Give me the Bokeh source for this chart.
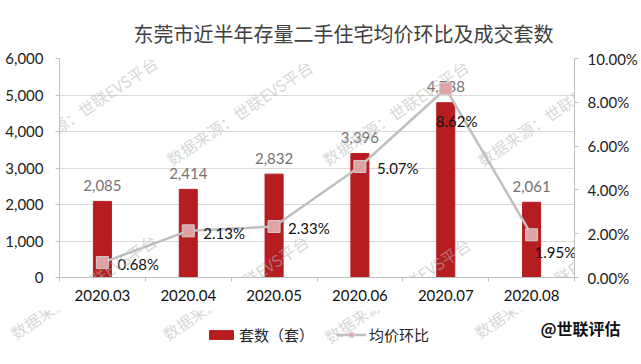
import math
from bokeh.plotting import figure
from bokeh.layouts import column
from bokeh.models import (Range1d, LinearAxis, FixedTicker, NumeralTickFormatter, Title,
                          PrintfTickFormatter, ColumnDataSource, Legend, LegendItem, Label, LabelSet)
from bokeh.core.properties import value
from bokeh.embed import file_html
from bokeh.resources import INLINE

# ---------------- data ----------------
months = ["2020.03", "2020.04", "2020.05", "2020.06", "2020.07", "2020.08"]
units = [2085, 2414, 2832, 3396, 4788, 2061]          # 套数（套）
mom_pct = [0.68, 2.13, 2.33, 5.07, 8.62, 1.95]        # 均价环比 (%)
left_ticks = [0, 1000, 2000, 3000, 4000, 5000, 6000]
right_ticks = [0, 2, 4, 6, 8, 10]

title_text = "东莞市近半年存量二手住宅均价环比及成交套数"
bar_name = "套数（套）"
line_name = "均价环比"
watermark = "数据来源：世联EVS平台"
credit = "@世联评估"

# ---------------- styles ----------------
pct_dx = [15, 15, 14, 17, -10, 3]
pct_dy = [1, 2, 2, 2, 32, 17]          # downward screen px
wm_pos = [(84, 108), (239, 112), (395, 112), (550, 113),
          (83, 286), (235, 287), (397, 290), (547, 285)]
W, H1, H2 = 641, 310, 54
FL, FR, FT, FB = 59, 574, 58, 277       # main frame, page px

BAR = "#b51d21"
LINE = "#bfbfbf"
MFILL, MLINE = "#e0a3a3", "#d0d0d0"
LATIN = "Lato"
CJK = "Noto Sans CJK SC"
WM = dict(angle=math.radians(34), text_align="center", text_baseline="middle",
          text_font=CJK, text_font_size="16px", text_color="#b5b5b5", text_alpha=0.55,
          level="overlay")

xpos = [i + 0.5 for i in range(len(months))]
src = ColumnDataSource(dict(
    x=xpos, units=units, pct=mom_pct,
    ulab=[f"{v:,}" for v in units],
    plab=[f"{v:.2f}%" for v in mom_pct],
    dx=pct_dx, ndy=[-d for d in pct_dy],
))

XMAX = len(months)
YMAX = left_ticks[-1]


def dx_of(px):
    return (px - FL) / (FR - FL) * XMAX


def dy_of(py):
    return (FB - py) / (FB - FT) * YMAX


# ================= main chart =================
p = figure(width=W, height=H1, x_range=Range1d(0, XMAX),
           y_range=Range1d(left_ticks[0], YMAX),
           output_backend="svg", toolbar_location=None,
           min_border_left=FL, min_border_right=W - FR, min_border_top=FT,
           min_border_bottom=H1 - FB)
p.extra_y_ranges = {"pct": Range1d(right_ticks[0], right_ticks[-1])}
p.outline_line_color = None
p.background_fill_color = "white"
p.border_fill_color = "white"

bars = p.vbar(x="x", top="units", width=0.21, source=src, fill_color=BAR, line_color=BAR)
p.text(x="x", y="units", text="ulab", source=src, text_align="center", text_baseline="middle",
       y_offset=-16, text_font=value(LATIN), text_font_size="15px", text_color="#767171")

line = p.line(x="x", y="pct", source=src, y_range_name="pct", line_color=LINE, line_width=2.5)
marks = p.scatter(x="x", y="pct", source=src, y_range_name="pct", marker="square", size=12,
                  fill_color=MFILL, line_color=MLINE, line_width=1)
p.add_layout(LabelSet(x="x", y="pct", text="plab", source=src, y_range_name="pct",
                      x_offset="dx", y_offset="ndy", text_align="left", text_baseline="middle",
                      text_font=value(LATIN), text_font_size="15px", text_color="#111111",
                      level="overlay"))

for (wx, wy) in wm_pos:
    p.add_layout(Label(x=dx_of(wx), y=dy_of(wy), text=watermark, **WM))

p.xgrid.visible = False
p.ygrid.grid_line_color = "#d9d9d9"
p.ygrid.ticker = FixedTicker(ticks=left_ticks)

xa = p.xaxis[0]
xa.ticker = FixedTicker(ticks=xpos, minor_ticks=list(range(len(months) + 1)))
xa.major_label_overrides = {x: m for x, m in zip(xpos, months)}
xa.major_tick_line_color = None
xa.major_tick_out = 0
xa.major_tick_in = 0
xa.minor_tick_out = 4
xa.minor_tick_in = 0
xa.minor_tick_line_color = "#bfbfbf"
xa.axis_line_color = "#bfbfbf"
xa.major_label_standoff = 8
xa.major_label_text_font = LATIN
xa.major_label_text_font_size = "15px"
xa.major_label_text_color = "#111111"

ya = p.yaxis[0]
ya.ticker = FixedTicker(ticks=left_ticks)
ya.formatter = NumeralTickFormatter(format="0,0")
ya.axis_line_color = "#bfbfbf"
ya.major_tick_line_color = "#bfbfbf"
ya.major_tick_out = 4
ya.major_tick_in = 0
ya.minor_tick_line_color = None
ya.major_label_standoff = 12
ya.major_label_text_font = LATIN
ya.major_label_text_font_size = "15px"
ya.major_label_text_color = "#222222"

ra = LinearAxis(y_range_name="pct", ticker=FixedTicker(ticks=right_ticks),
                formatter=PrintfTickFormatter(format="%.2f%%"))
ra.axis_line_color = "#bfbfbf"
ra.major_tick_line_color = "#bfbfbf"
ra.major_tick_out = 4
ra.major_tick_in = 0
ra.minor_tick_line_color = None
ra.major_label_standoff = 9
ra.major_label_text_font = LATIN
ra.major_label_text_font_size = "15px"
ra.major_label_text_color = "#222222"
p.add_layout(ra, "right")

p.title = Title(text=title_text, align="left", offset=133 - FL, standoff=22,
                text_font=CJK, text_font_size="20px", text_font_style="normal",
                text_color="#404040")

# ================= legend strip =================
q = figure(width=W, height=H2, x_axis_type=None, y_axis_type=None,
           output_backend="svg", toolbar_location=None,
           min_border=0, min_border_left=0, min_border_right=0, min_border_top=0,
           min_border_bottom=0)

unaligned = True
try:
    p.frame_align = False
    q.frame_align = False
except Exception:
    unaligned = False

if unaligned:
    X0, X1 = 0, W          # strip frame spans the whole width
else:
    X0, X1 = FL, FR        # strip frame aligned with the main frame
q.x_range = Range1d(X0, X1)
q.y_range = Range1d(0, H2)
q.outline_line_color = None
q.background_fill_color = "white"
q.border_fill_color = "white"
q.xgrid.visible = False
q.ygrid.visible = False

# legend renderers: same data, mapped to ranges that keep them off the strip
q.extra_x_ranges = {"off": Range1d(1000, 2000)}
q.extra_y_ranges = {"off": Range1d(100000, 200000)}
lbar = q.vbar(x="x", top="units", width=0.21, source=src, x_range_name="off",
              y_range_name="off", fill_color=BAR, line_color=BAR)
lline = q.line(x="x", y="pct", source=src, x_range_name="off", y_range_name="off",
               line_color=LINE, line_width=2.5)
lmark = q.scatter(x="x", y="pct", source=src, x_range_name="off", y_range_name="off",
                  marker="square", size=12, fill_color=MFILL, line_color=MLINE, line_width=1)

legend = Legend(items=[LegendItem(label=bar_name, renderers=[lbar]),
                       LegendItem(label=line_name, renderers=[lline, lmark])],
                orientation="horizontal", location=(206 - X0, 19),
                glyph_width=30, glyph_height=11, label_standoff=3, spacing=22,
                padding=4, margin=0, border_line_color=None, background_fill_alpha=0,
                label_text_font=CJK, label_text_font_size="15px", label_text_color="#262626")
q.add_layout(legend)

for (wx, wy) in wm_pos:
    q.add_layout(Label(x=wx, y=H1 + H2 - wy, text=watermark, **WM))

q.add_layout(Label(x=540, y=H1 + H2 - 327, text=credit, text_align="left",
                   text_baseline="middle", text_font=CJK, text_font_size="16px",
                   text_font_style="bold", text_color="#111111", level="overlay"))

layout = column(p, q, spacing=0)
open("out.html", "w").write(file_html(layout, INLINE))
